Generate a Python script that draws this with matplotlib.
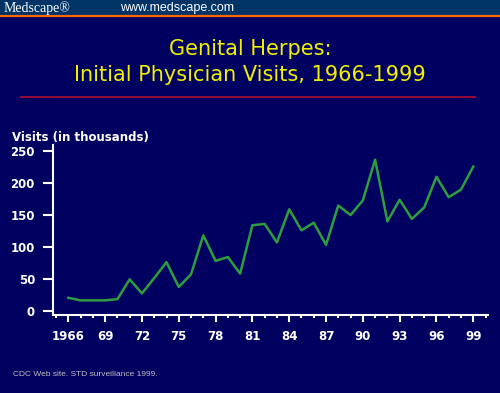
import matplotlib
matplotlib.use("Agg")
import matplotlib.pyplot as plt
from matplotlib.patches import Rectangle
from matplotlib.lines import Line2D
from matplotlib.ticker import MultipleLocator

years = list(range(1966, 2000))
visits = [20, 16, 16, 16, 18, 49, 27, 51, 76, 37, 57, 118, 78, 84, 58, 134,
          136, 107, 159, 126, 138, 103, 165, 150, 173, 237, 140, 174, 144, 162,
          210, 178, 190, 226]
xtick_years = list(range(1966, 2000, 3))
xtick_labels = ["1966"] + [str(y)[2:] for y in xtick_years[1:]]
yticks = [0, 50, 100, 150, 200, 250]

bg = "#000060"
W, H = 500, 393

fig = plt.figure(figsize=(W / 100, H / 100), dpi=100, facecolor=bg)

# header band
fig.patches.append(Rectangle((0, 1 - 15 / H), 1, 15 / H, transform=fig.transFigure,
                             facecolor="#003366", edgecolor="none", zorder=0))
fig.lines.append(Line2D([0, 1], [1 - 16 / H, 1 - 16 / H], transform=fig.transFigure,
                        color="#ff6600", lw=1.6))
fig.text(4 / W, 1 - 8 / H, "Medscape\u00ae", color="white", fontsize=10,
         family="Liberation Serif", va="center", ha="left")
fig.text(120 / W, 1 - 8 / H, "www.medscape.com", color="white", fontsize=9,
         family="Liberation Sans", va="center", ha="left")

# title
fig.text(0.5, 1 - 49 / H, "Genital Herpes:", color="#f0f000", fontsize=15,
         ha="center", va="center", fontweight="medium")
fig.text(0.5, 1 - 75 / H, "Initial Physician Visits, 1966-1999", color="#f0f000",
         fontsize=15, ha="center", va="center", fontweight="medium")
fig.lines.append(Line2D([21 / W, 475 / W], [1 - 97 / H, 1 - 97 / H],
                        transform=fig.transFigure, color="#b01030", lw=1.2))

ax = fig.add_axes([53 / W, 1 - 315 / H, 435 / W, 170 / H])
ax.set_facecolor(bg)
ax.plot(years, visits, color="#2e9e3e", lw=1.8)

ax.set_xlim(1964.75, 2000.2)
ax.set_ylim(-7, 260)
ax.set_yticks(yticks)
ax.set_xticks(xtick_years)
ax.set_xticklabels(xtick_labels)
ax.xaxis.set_minor_locator(MultipleLocator(1))

for s in ["top", "right"]:
    ax.spines[s].set_visible(False)
for s in ["left", "bottom"]:
    ax.spines[s].set_color("white")
    ax.spines[s].set_linewidth(1.5)

ax.tick_params(axis="y", colors="white", length=7, width=1.5, pad=6)
ax.tick_params(axis="x", which="major", colors="white", length=5, width=1.5, pad=6)
ax.tick_params(axis="x", which="minor", colors="white", length=2.5, width=1.5)
for lab in ax.get_xticklabels() + ax.get_yticklabels():
    lab.set_fontweight("bold")
    lab.set_fontsize(8.5)

fig.text(12 / W, 1 - 137 / H, "Visits (in thousands)", color="white",
         fontsize=8.5, fontweight="bold", ha="left", va="center")

fig.text(13 / W, 1 - 374 / H, "CDC Web site. STD surveillance 1999.", color="#c0c0c0",
         fontsize=6, family="Liberation Sans", ha="left", va="center")

fig.savefig("out.png", dpi=100, facecolor=bg)
